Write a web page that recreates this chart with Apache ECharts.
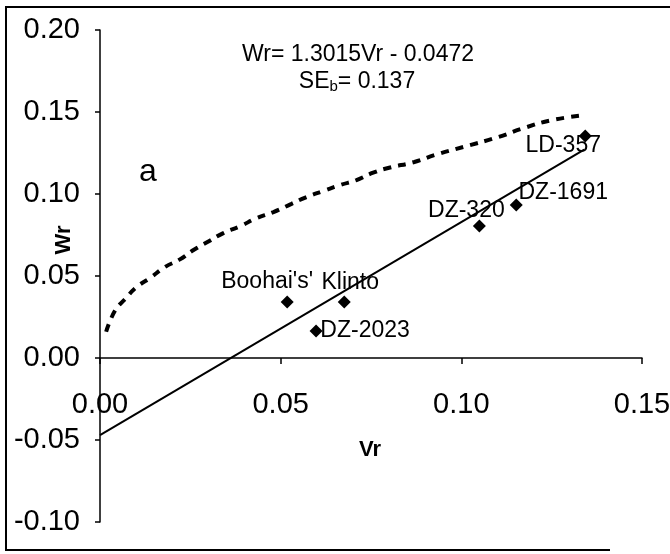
<!DOCTYPE html>
<html>
<head>
<meta charset="utf-8">
<script src="https://cdn.jsdelivr.net/npm/echarts@6/dist/echarts.min.js"></script>
<style>
* { margin: 0; padding: 0; }
body { background: #fff; }
#main { width: 670px; height: 554px; }
</style>
</head>
<body>
<div id="main"></div>
<script>
// 样本点
var names = ["Boohai's'", 'Klinto', 'DZ-2023', 'DZ-320', 'DZ-1691', 'LD-357']
var vr = [0.0518, 0.0676, 0.0598, 0.105, 0.1152, 0.1343]
var wr = [0.0341, 0.0341, 0.0165, 0.0805, 0.0933, 0.1354]

// 虚线曲线 (Vr, Wr)
var curveVr = [0.0017, 0.0042, 0.007, 0.010, 0.014, 0.018, 0.022, 0.026, 0.030, 0.034, 0.039, 0.043, 0.048, 0.053, 0.057, 0.062, 0.0665, 0.071, 0.0756, 0.080, 0.087, 0.093, 0.1006, 0.1103, 0.117, 0.125, 0.134]
var curveWr = [0.016, 0.029, 0.036, 0.043, 0.049, 0.0555, 0.060, 0.066, 0.071, 0.076, 0.0805, 0.085, 0.089, 0.094, 0.098, 0.102, 0.1055, 0.1085, 0.113, 0.116, 0.1195, 0.124, 0.1287, 0.1348, 0.140, 0.145, 0.148]

// 回归线两端
var fitVr = [0, 0.134]
var fitWr = [-0.047, 0.127]

var xTicks = [0, 0.05, 0.10, 0.15]
var yTicks = [-0.10, -0.05, 0, 0.05, 0.10, 0.15, 0.20]

// 标签偏移
var labelOffsets = [[-20, -20], [6, -19], [49, 0], [-13, -15], [47, -12], [-22, 10]]

var font = "'Liberation Sans', Arial, sans-serif"

var chart = echarts.init(document.getElementById('main'))

var pts = names.map(function (n, i) {
  return {
    name: n,
    value: [vr[i], wr[i]],
    label: { offset: labelOffsets[i] }
  }
})

chart.setOption({
  animation: false,
  grid: { left: 100, right: 28, top: 30, bottom: 32, outerBoundsMode: 'none' },
  xAxis: {
    type: 'value',
    min: xTicks[0],
    max: xTicks[xTicks.length - 1],
    interval: 0.05,
    offset: -164, // 把x轴放到 y=0 处
    splitLine: { show: false },
    axisLine: { onZero: false, lineStyle: { color: '#000', width: 1.5 } },
    axisTick: { length: 6, lineStyle: { color: '#000', width: 1.5 } },
    axisLabel: {
      margin: 32, color: '#000', fontSize: 29, fontFamily: font,
      formatter: function (v) { return v.toFixed(2) }
    }
  },
  yAxis: {
    type: 'value',
    min: yTicks[0],
    max: yTicks[yTicks.length - 1],
    interval: 0.05,
    splitLine: { show: false },
    axisLine: { show: true, onZero: false, lineStyle: { color: '#000', width: 1.5 } },
    axisTick: { show: true, length: 5, lineStyle: { color: '#000', width: 1.5 } },
    axisLabel: {
      margin: 20, color: '#000', fontSize: 29, fontFamily: font,
      formatter: function (v) { return v.toFixed(2) }
    }
  },
  series: [
    {
      type: 'line',
      smooth: true,
      showSymbol: false,
      data: curveVr.map(function (v, i) { return [v, curveWr[i]] }),
      lineStyle: { color: '#000', width: 4, type: [8, 7] }
    },
    {
      type: 'line',
      showSymbol: false,
      data: fitVr.map(function (v, i) { return [v, fitWr[i]] }),
      lineStyle: { color: '#000', width: 2 }
    },
    {
      type: 'scatter',
      symbol: 'diamond',
      symbolSize: 13,
      itemStyle: { color: '#000', opacity: 1 },
      label: {
        show: true,
        position: 'inside',
        formatter: '{b}',
        color: '#000',
        textBorderWidth: 0,
        fontSize: 23,
        fontFamily: font
      },
      data: pts
    }
  ],
  graphic: [
    { type: 'polyline', shape: { points: [[670, 7], [6, 7], [6, 550], [610, 550]] }, style: { stroke: '#000', lineWidth: 2, fill: null } },
    { type: 'text', x: 358, y: 55, style: { text: 'Wr= 1.3015Vr - 0.0472', font: '23px ' + font, fill: '#000', align: 'center', verticalAlign: 'middle' } },
    {
      type: 'text', x: 357, y: 82,
      style: {
        text: '{n|SE}{s|b}{n|= 0.137}',
        align: 'center', verticalAlign: 'middle',
        rich: {
          n: { fontSize: 23, fontFamily: font, fill: '#000' },
          s: { fontSize: 15, fontFamily: font, fill: '#000', padding: [10, 0, 0, 0] }
        }
      }
    },
    { type: 'text', x: 148, y: 172, style: { text: 'a', font: '32px ' + font, fill: '#000', align: 'center', verticalAlign: 'middle' } },
    { type: 'text', x: 370, y: 450, style: { text: 'Vr', font: 'bold 22px ' + font, fill: '#000', align: 'center', verticalAlign: 'middle' } },
    { type: 'text', x: 64, y: 240, rotation: Math.PI / 2, style: { text: 'Wr', font: 'bold 22px ' + font, fill: '#000', align: 'center', verticalAlign: 'middle' } }
  ]
})
</script>
</body>
</html>
